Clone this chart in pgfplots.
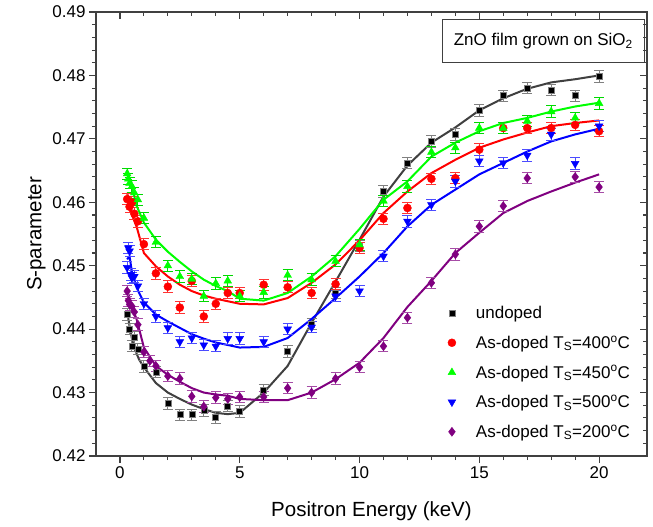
\documentclass[border=0pt]{standalone}
\usepackage{fontspec}
\setmainfont{Liberation Sans}
\usepackage{pgfplots}
\pgfplotsset{compat=1.18}

\definecolor{axgray}{HTML}{404040}
\definecolor{cred}{HTML}{FF0000}
\definecolor{cgreen}{HTML}{00FF00}
\definecolor{cblue}{HTML}{0000FF}
\definecolor{cpurple}{HTML}{800080}

\pgfplotsset{
  frame/.style={width=551pt,height=444pt,scale only axis,
    xmin=-1,xmax=22,ymin=0.42,ymax=0.49,
    xtick={0,5,10,15,20},minor x tick num=4,
    ytick={0.42,0.43,0.44,0.45,0.46,0.47,0.48,0.49},minor y tick num=4,
    axis line style={axgray,line width=1.3pt},
    major tick length=7pt,minor tick length=4pt,
    every tick/.style={axgray,line width=1.1pt}},
  pts/.style={only marks,
    error bars/y dir=both,error bars/y fixed=0.0009,
    error bars/error mark options={rotate=90,mark size=5pt,line width=1pt,#1},
    error bars/error bar style={line width=1pt,#1}},
  fit/.style={no marks,line width=2pt,forget plot},
}

\begin{document}
\begin{tikzpicture}
\begin{axis}[frame,name=ax,
  xtick pos=left,ytick pos=left,tick align=outside,
  /pgf/number format/assume math mode=true,
  tick label style={font=\fontsize{17}{20}\selectfont},
  yticklabel style={/pgf/number format/.cd,fixed,fixed zerofill,precision=2},
  label style={font=\fontsize{20.5}{24}\selectfont},
  xlabel={Positron Energy (keV)},ylabel={S-parameter},
  xlabel style={yshift=-16pt},
  legend style={at={(rel axis cs:0.622,0.3465)},anchor=north west,draw=none,fill=none,
    font=\fontsize{17}{20}\selectfont,row sep=11.5pt},
  legend cell align=left,
  legend image code/.code={\path[draw=none,fill=none] (0pt,0pt) -- (32pt,0pt);
    \draw[#1] plot coordinates {(10pt,0pt)};},
]
% undoped
\addplot[fit,color=axgray] coordinates {
(0.3,0.4428)(0.4,0.4405)(0.5,0.4385)(0.6,0.4370)(0.8,0.4352)(1,0.4340)(1.5,0.4315)
(2,0.4300)(2.5,0.4290)(3,0.4281)(3.5,0.4274)(4,0.4268)(4.5,0.4266)(5,0.4268)
(6,0.4300)(7,0.4342)(8,0.4410)(9,0.4475)(10,0.4541)(11,0.4609)(12,0.4658)
(13,0.4694)(14,0.4718)(15,0.4745)(16,0.4764)(17,0.4779)(18,0.4789)(19,0.4794)(20,0.4800)};
\addplot[pts={color=gray},mark=square*,mark size=3pt,mark options={fill=black,draw=gray,line width=0.6pt}] coordinates {
(0.3,0.4423)(0.4,0.4400)(0.5,0.4373)(0.6,0.4387)(0.75,0.4369)(1,0.4341)(1.5,0.4332)
(2,0.4283)(2.5,0.4265)(3,0.4265)(3.5,0.4272)(4,0.4261)(4.5,0.4279)(5,0.4270)
(6,0.4304)(7,0.4365)(8,0.4408)(9,0.4457)(10,0.4531)(11,0.4617)(12,0.4662)
(13,0.4696)(14,0.4707)(15,0.4745)(16,0.4768)(17,0.4780)(18,0.4777)(19,0.4768)(20,0.4798)};
\addlegendentry{undoped}
% 400 C
\addplot[fit,color=cred] coordinates {
(0.3,0.4615)(0.5,0.4580)(0.7,0.4561)(1,0.4520)(1.5,0.4499)(2,0.4483)(2.5,0.4470)
(3,0.4460)(3.5,0.4453)(4,0.4448)(4.5,0.4444)(5,0.4440)(6,0.4439)(7,0.4449)
(8,0.4473)(9,0.4502)(10,0.4540)(11,0.4583)(12,0.4617)(13,0.4646)(14,0.4667)
(15,0.4686)(16,0.4699)(17,0.4710)(18,0.4720)(19,0.4725)(20,0.4729)};
\addplot[pts={color=cred!80},mark=*,mark size=4pt,color=cred,mark options={fill=cred,draw=cred}] coordinates {
(0.3,0.4605)(0.4,0.4593)(0.5,0.4600)(0.6,0.4582)(0.75,0.4570)(1,0.4534)(1.5,0.4488)
(2,0.4467)(2.5,0.4434)(3,0.4476)(3.5,0.4420)(4,0.4440)(4.5,0.4457)(5,0.4457)
(6,0.4470)(7,0.4466)(8,0.4457)(9,0.4471)(10,0.4528)(11,0.4574)(12,0.4591)
(13,0.4637)(14,0.4638)(15,0.4683)(16,0.4717)(17,0.4717)(18,0.4717)(19,0.4722)(20,0.4712)};
\addlegendentry{As-doped T\textsubscript{S}=400\textsuperscript{o}C}
% 450 C
\addplot[fit,color=cgreen] coordinates {
(0.3,0.4651)(0.5,0.4625)(0.7,0.4594)(1,0.4568)(1.5,0.4541)(2,0.4522)(2.5,0.4506)
(3,0.4491)(3.5,0.4478)(4,0.4468)(4.5,0.4460)(5,0.4448)(6,0.4445)(7,0.4457)
(8,0.4483)(9,0.4515)(10,0.4558)(11,0.4604)(12,0.4633)(13,0.4672)(14,0.4694)
(15,0.4712)(16,0.4725)(17,0.4733)(18,0.4743)(19,0.4751)(20,0.4757)};
\addplot[pts={color=cgreen!85!black},mark=triangle*,mark size=4.5pt,color=cgreen,mark options={fill=cgreen,draw=cgreen}] coordinates {
(0.3,0.4645)(0.35,0.4637)(0.4,0.4630)(0.5,0.4625)(0.6,0.4615)(0.75,0.4604)(1,0.4575)
(1.5,0.4537)(2,0.4500)(2.5,0.4483)(3,0.4479)(3.5,0.4452)(4,0.4472)(4.5,0.4476)
(5,0.4452)(6,0.4458)(7,0.4485)(8,0.4478)(9,0.4507)(10,0.4533)(11,0.4602)(12,0.4625)
(13,0.4679)(14,0.4686)(15,0.4717)(16,0.4717)(17,0.4728)(18,0.4743)(19,0.4733)(20,0.4756)};
\addlegendentry{As-doped T\textsubscript{S}=450\textsuperscript{o}C}
% 500 C
\addplot[fit,color=cblue] coordinates {
(0.3,0.4510)(0.4,0.4515)(0.5,0.4490)(0.7,0.4465)(1,0.4442)(1.5,0.4423)(2,0.4412)
(2.5,0.4402)(3,0.4392)(3.5,0.4385)(4,0.4379)(4.5,0.4375)(5,0.4371)(6,0.4372)
(7,0.4386)(8,0.4416)(9,0.4449)(10,0.4483)(11,0.4520)(12,0.4562)(13,0.4596)
(14,0.4620)(15,0.4644)(16,0.4662)(17,0.4680)(18,0.4696)(19,0.4707)(20,0.4716)};
\addplot[pts={color=cblue!70},mark=triangle*,mark size=4.5pt,color=cblue,mark options={rotate=180,fill=cblue,draw=cblue}] coordinates {
(0.3,0.4497)(0.35,0.4528)(0.4,0.4523)(0.45,0.4486)(0.5,0.4481)(0.6,0.4483)(0.75,0.4468)
(1,0.4440)(1.5,0.4420)(2,0.4402)(2.5,0.4380)(3,0.4386)(3.5,0.4375)(4,0.4373)
(4.5,0.4385)(5,0.4385)(6,0.4380)(7,0.4400)(8,0.4403)(9,0.4452)(10,0.4460)(11,0.4515)
(12,0.4570)(13,0.4596)(14,0.4633)(15,0.4665)(16,0.4662)(17,0.4674)(18,0.4707)(19,0.4661)(20,0.4720)};
\addlegendentry{As-doped T\textsubscript{S}=500\textsuperscript{o}C}
% 200 C
\addplot[fit,color=cpurple] coordinates {
(0.3,0.4462)(0.5,0.4436)(0.7,0.4415)(1,0.4371)(1.5,0.4342)(2,0.4328)(2.5,0.4317)
(3,0.4307)(3.5,0.4300)(4,0.4297)(4.5,0.4295)(5,0.4290)(6,0.4288)(7,0.4288)
(8,0.4300)(9,0.4321)(10,0.4347)(11,0.4386)(12,0.4435)(13,0.4476)(14,0.4520)
(15,0.4552)(16,0.4583)(17,0.4602)(18,0.4617)(19,0.4631)(20,0.4644)};
\addplot[pts={color=cpurple!70},mark=diamond*,mark size=4.5pt,color=cpurple,mark options={fill=cpurple,draw=cpurple}] coordinates {
(0.3,0.4460)(0.35,0.4445)(0.4,0.4439)(0.5,0.4436)(0.6,0.4427)(0.75,0.4407)(1,0.4364)
(1.25,0.4350)(1.5,0.4342)(2,0.4326)(2.5,0.4322)(3,0.4294)(3.5,0.4278)(4,0.4292)
(4.5,0.4290)(5,0.4293)(6,0.4293)(7,0.4307)(8,0.4300)(9,0.4322)(10,0.4340)(11,0.4373)
(12,0.4418)(13,0.4473)(14,0.4518)(15,0.4562)(16,0.4594)(17,0.4638)(19,0.4640)(20,0.4624)};
\addlegendentry{As-doped T\textsubscript{S}=200\textsuperscript{o}C}
\node[draw=axgray,line width=1pt,anchor=north east,minimum width=202pt,minimum height=43pt,
  font=\fontsize{17}{20}\selectfont] at (rel axis cs:0.996,0.984) {ZnO film grown on SiO\textsubscript{2}};
\end{axis}
\begin{axis}[frame,xtick pos=right,ytick pos=right,tick align=inside,
  xticklabels={},yticklabels={}]
\end{axis}
\pgfresetboundingbox
\path ([xshift=-96pt,yshift=-71pt]ax.south west) rectangle ([xshift=6pt,yshift=12pt]ax.north east);
\end{tikzpicture}
\end{document}
